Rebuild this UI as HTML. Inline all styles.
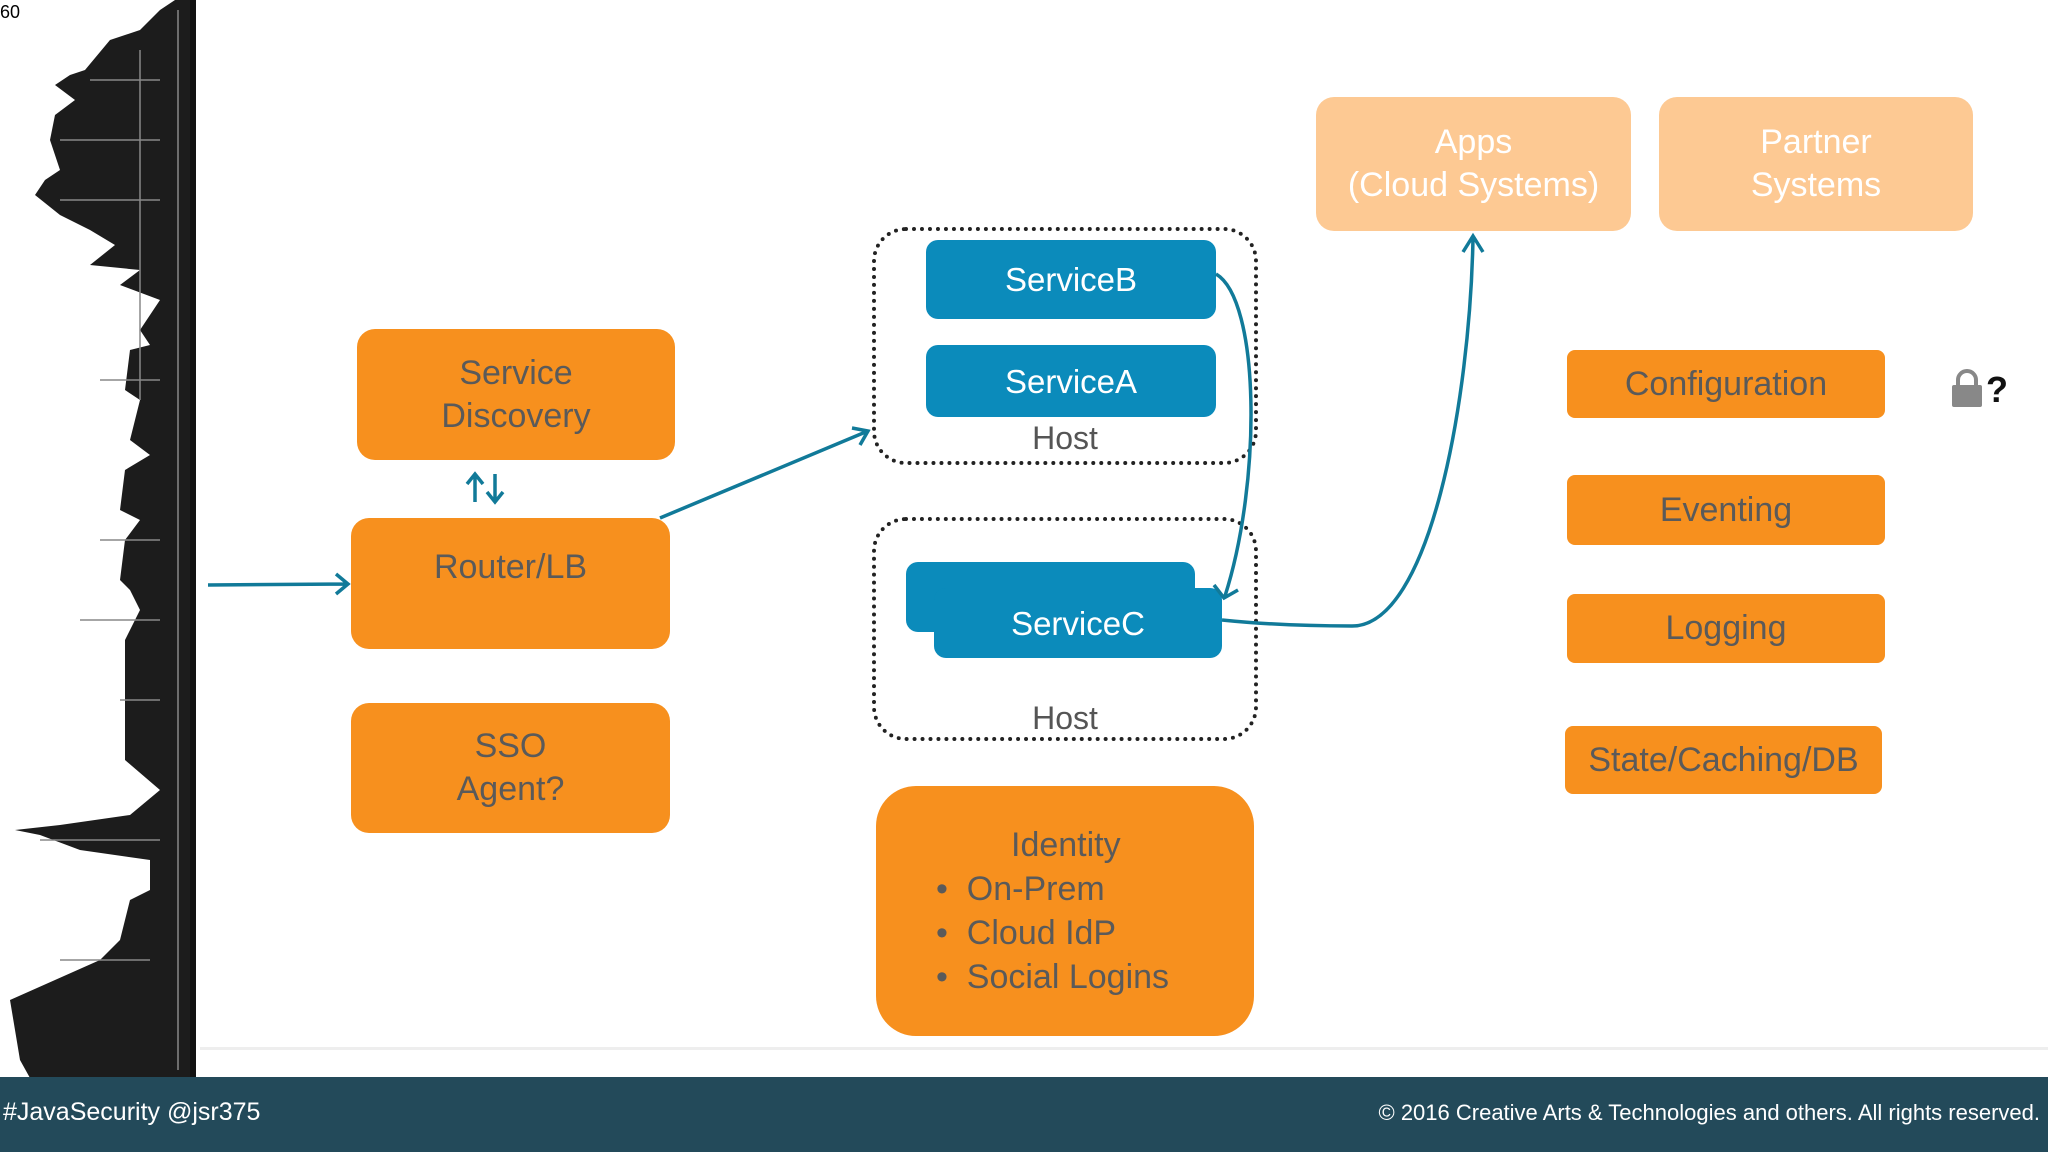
<!DOCTYPE html>
<html><head><meta charset="utf-8"><style>
body{margin:0;width:2048px;height:1152px;overflow:hidden;background:#fff;position:relative;font-family:"Liberation Sans","DejaVu Sans",sans-serif}
.b{position:absolute;display:flex;align-items:center;justify-content:center;text-align:center;font-size:34px;line-height:43px;box-sizing:border-box}
.o{background:#f7901e;color:#5a5a5a;border-radius:18px}
.l{background:#fdc993;color:#fff;border-radius:18px}
.s{background:#0b8bbb;color:#fff;border-radius:12px;font-size:33px}
.h{position:absolute;border:4px dotted #222;border-radius:34px;box-sizing:border-box}
.t{position:absolute;font-size:32px;color:#555;text-align:center}
</style></head><body>
<svg style="position:absolute;left:0;top:0" width="200" height="1080">
<path d="M196 0 V1078 H30 L20 1060 L10 1000 L100 960 L120 940 L130 900 L150 890 L150 860 L80 850 L40 835 L15 830 L60 825 L130 815 L160 790 L125 760 L125 640 L140 610 L130 590 L120 580 L125 540 L140 520 L120 510 L125 470 L150 455 L130 440 L140 400 L125 390 L130 350 L150 345 L140 330 L160 300 L120 285 L140 270 L90 265 L115 245 L90 230 L60 215 L35 195 L45 180 L60 170 L50 140 L55 115 L75 100 L55 85 L70 75 L85 70 L110 40 L140 30 L160 10 L175 0 Z" fill="#1c1c1c"/>
<g stroke="#888" stroke-width="1.5" fill="none"><path d="M178 10V1070M140 50V400M90 80h70M60 140h100M60 200h100M140 180v200M100 380h60M100 540h60M80 620h80M120 700h40M40 840h120M60 960h90"/></g>
<rect x="190" y="0" width="6" height="1078" fill="#111"/>
</svg>
<div style="position:absolute;left:0;top:2px;font-size:18px;color:#000;background:#fff">60</div>
<div style="position:absolute;left:200px;top:1047px;width:1848px;height:3px;background:#eee"></div>
<div style="position:absolute;left:0;top:1077px;width:2048px;height:75px;background:#234a5a;color:#fff">
<div style="position:absolute;left:3px;top:21px;font-size:25px">#JavaSecurity @jsr375</div>
<div style="position:absolute;right:8px;top:23px;font-size:22px">© 2016 Creative Arts &amp; Technologies and others. All rights reserved.</div></div>

<div class="b o" style="left:357px;top:329px;width:318px;height:131px">Service<br>Discovery</div>
<div class="b o" style="left:351px;top:518px;width:319px;height:131px;align-items:flex-start;padding-top:28px">Router/LB</div>
<div class="b o" style="left:351px;top:703px;width:319px;height:130px">SSO<br>Agent?</div>

<div class="h" style="left:872px;top:227px;width:386px;height:238px"></div>
<div class="b s" style="left:926px;top:240px;width:290px;height:79px">ServiceB</div>
<div class="b s" style="left:926px;top:345px;width:290px;height:72px">ServiceA</div>
<div class="t" style="left:872px;top:420px;width:386px">Host</div>
<div class="h" style="left:872px;top:517px;width:386px;height:224px"></div>
<div class="b s" style="left:906px;top:562px;width:289px;height:70px"></div>
<div class="b s" style="left:934px;top:588px;width:288px;height:70px">ServiceC</div>
<div class="t" style="left:872px;top:700px;width:386px">Host</div>

<div class="b o" style="left:876px;top:786px;width:378px;height:250px;border-radius:40px;padding-left:60px;text-align:left;line-height:44px;display:block;padding-top:37px">
<div style="padding-left:75px">Identity</div>
<div>•&nbsp; On-Prem</div><div>•&nbsp; Cloud IdP</div><div>•&nbsp; Social Logins</div></div>

<div class="b l" style="left:1316px;top:97px;width:315px;height:134px">Apps<br>(Cloud Systems)</div>
<div class="b l" style="left:1659px;top:97px;width:314px;height:134px">Partner<br>Systems</div>
<div class="b o" style="left:1567px;top:350px;width:318px;height:68px;border-radius:8px">Configuration</div>
<div class="b o" style="left:1567px;top:475px;width:318px;height:70px;border-radius:8px">Eventing</div>
<div class="b o" style="left:1567px;top:594px;width:318px;height:69px;border-radius:8px">Logging</div>
<div class="b o" style="left:1565px;top:726px;width:317px;height:68px;border-radius:8px">State/Caching/DB</div>

<svg style="position:absolute;left:1950px;top:366px" width="70" height="44">
<path d="M8 20v-6a9 9 0 0 1 18 0v6" stroke="#888" stroke-width="4" fill="none"/>
<rect x="2" y="19" width="30" height="22" rx="2" fill="#888"/>
<text x="36" y="36" font-size="36" font-weight="bold" fill="#111" font-family="Liberation Sans">?</text></svg>

<svg style="position:absolute;left:0;top:0" width="2048" height="1152" fill="none" stroke="#117a99" stroke-width="3.5">
<path d="M208 585 L348 584 M336 574 L348 584 L336 594"/>
<path d="M660 518 L868 431 M852 428 L868 431 L860 445"/>
<path d="M1216 274 C1260 300 1262 480 1225 596 M1214 585 L1224 598 L1238 590"/>
<path d="M1222 620 C1280 626 1330 626 1352 626 C1430 626 1470 400 1473 238 M1463 252 L1473 236 L1483 252"/>
<path d="M475 502 L475 474 M467 484 L475 474 L483 484 M495 474 L495 502 M487 492 L495 502 L503 492"/>
</svg>
</body></html>
